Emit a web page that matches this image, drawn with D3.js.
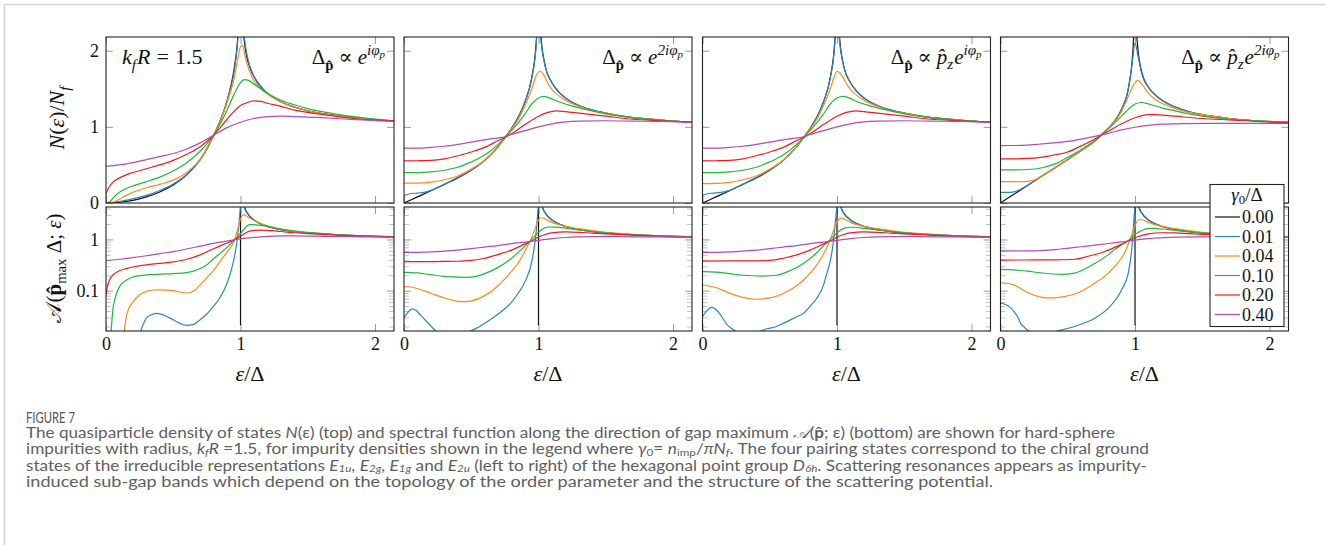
<!DOCTYPE html>
<html><head><meta charset="utf-8">
<script src="https://cdn.jsdelivr.net/npm/d3@7"></script>
<style>body{margin:0;background:#fff}svg{display:block}</style>
</head><body><svg id="c" width="1326" height="545"></svg>
<script>
// ---------------- DATA ----------------
const gammaLabels = ["0.00","0.01","0.04","0.10","0.20","0.40"];
const seriesColors = ["#111111","#2a86c4","#ff8a1c","#1db83c","#f5191f","#b04cb4"];
const xTicks = [0,1,2];
const dosTicks = [0,1,2];
const specMajorTicks = [0.1,1];
const specMinorTicks = [0.02,0.03,0.04,0.05,0.06,0.07,0.08,0.09,0.2,0.3,0.4,0.5,0.6,0.7,0.8,0.9,2,3,4];
const X_DOMAIN = [0,2.141];
const DOS_DOMAIN = [0,2.18];
const SPEC_DOMAIN = [0.0163,4.3];

// --- E1u (Delta ~ e^{i phi}) DOS ---
const dosE1u_000=[[0,0],[0.1,0.01],[0.2,0.035],[0.3,0.08],[0.4,0.145],[0.5,0.235],[0.6,0.37],[0.7,0.57],[0.75,0.71],[0.8,0.89],[0.85,1.08],[0.9,1.34],[0.93,1.55],[0.96,1.85],[0.98,2.2],[0.995,2.9],[1.0,3.5],[1.005,2.9],[1.02,2.3],[1.04,1.98],[1.07,1.78],[1.1,1.66],[1.15,1.53],[1.2,1.44],[1.3,1.33],[1.4,1.26],[1.5,1.21],[1.7,1.15],[1.9,1.11],[2.14,1.08]];
const dosE1u_001=[[0,0],[0.1,0.02],[0.2,0.055],[0.3,0.1],[0.4,0.165],[0.5,0.25],[0.6,0.375],[0.7,0.57],[0.8,0.89],[0.9,1.34],[0.95,1.7],[0.98,2.15],[0.99,2.45],[1.0,2.6],[1.01,2.5],[1.03,2.15],[1.05,1.93],[1.1,1.66],[1.2,1.44],[1.3,1.33],[1.5,1.21],[1.7,1.15],[1.9,1.11],[2.14,1.08]];
const dosE1u_004=[[0,0],[0.05,0.01],[0.1,0.05],[0.15,0.1],[0.2,0.14],[0.25,0.17],[0.3,0.2],[0.4,0.245],[0.5,0.3],[0.6,0.4],[0.7,0.575],[0.8,0.89],[0.85,1.08],[0.9,1.32],[0.95,1.62],[0.98,1.9],[1.0,2.05],[1.015,2.07],[1.03,1.96],[1.05,1.82],[1.1,1.6],[1.15,1.5],[1.2,1.43],[1.3,1.33],[1.5,1.21],[1.7,1.15],[1.9,1.11],[2.14,1.08]];
const dosE1u_010=[[0,0],[0.03,0.02],[0.06,0.08],[0.1,0.14],[0.15,0.19],[0.2,0.225],[0.3,0.28],[0.4,0.34],[0.5,0.42],[0.6,0.53],[0.7,0.68],[0.8,0.89],[0.85,1.04],[0.9,1.22],[0.95,1.42],[1.0,1.58],[1.03,1.62],[1.06,1.61],[1.1,1.56],[1.15,1.5],[1.2,1.44],[1.3,1.35],[1.4,1.29],[1.5,1.24],[1.7,1.17],[1.9,1.12],[2.14,1.08]];
const dosE1u_020=[[0,0.12],[0.02,0.2],[0.05,0.27],[0.1,0.33],[0.15,0.37],[0.2,0.4],[0.3,0.45],[0.4,0.5],[0.5,0.56],[0.6,0.64],[0.7,0.74],[0.8,0.89],[0.9,1.1],[0.95,1.2],[1.0,1.28],[1.05,1.32],[1.1,1.34],[1.15,1.335],[1.2,1.31],[1.3,1.27],[1.4,1.22],[1.5,1.19],[1.7,1.14],[1.9,1.1],[2.14,1.08]];
const dosE1u_040=[[0,0.48],[0.1,0.5],[0.2,0.53],[0.3,0.57],[0.4,0.61],[0.5,0.65],[0.6,0.71],[0.7,0.79],[0.8,0.89],[0.9,0.99],[1.0,1.06],[1.1,1.11],[1.2,1.135],[1.3,1.14],[1.4,1.135],[1.6,1.12],[1.8,1.1],[2.0,1.08],[2.14,1.07]];

// --- E2g (Delta ~ e^{2i phi}) DOS ---
const dosE2g_000=[[0,0],[0.1,0.08],[0.2,0.16],[0.3,0.245],[0.4,0.33],[0.5,0.43],[0.6,0.56],[0.7,0.74],[0.75,0.86],[0.8,0.98],[0.85,1.13],[0.9,1.33],[0.95,1.65],[0.98,2.05],[0.99,2.35],[1.0,3.2],[1.01,2.4],[1.02,2.15],[1.05,1.8],[1.1,1.58],[1.15,1.46],[1.2,1.38],[1.3,1.28],[1.4,1.22],[1.5,1.18],[1.7,1.12],[1.9,1.09],[2.14,1.06]];
const dosE2g_001=[[0,0.1],[0.03,0.115],[0.06,0.125],[0.1,0.13],[0.15,0.14],[0.2,0.165],[0.3,0.245],[0.4,0.335],[0.5,0.435],[0.6,0.56],[0.7,0.74],[0.8,0.98],[0.9,1.33],[0.95,1.64],[0.98,2.0],[1.0,2.5],[1.02,2.1],[1.05,1.79],[1.1,1.58],[1.15,1.46],[1.2,1.38],[1.3,1.28],[1.4,1.22],[1.5,1.18],[1.7,1.12],[1.9,1.09],[2.14,1.06]];
const dosE2g_004=[[0,0.26],[0.1,0.262],[0.2,0.275],[0.3,0.305],[0.4,0.355],[0.5,0.445],[0.6,0.565],[0.7,0.74],[0.75,0.86],[0.8,0.97],[0.85,1.1],[0.9,1.28],[0.95,1.5],[0.98,1.66],[1.01,1.73],[1.04,1.68],[1.07,1.57],[1.1,1.49],[1.15,1.41],[1.2,1.35],[1.3,1.27],[1.4,1.21],[1.5,1.18],[1.7,1.12],[1.9,1.09],[2.14,1.06]];
const dosE2g_010=[[0,0.4],[0.1,0.4],[0.2,0.41],[0.3,0.43],[0.4,0.47],[0.5,0.54],[0.6,0.63],[0.7,0.77],[0.75,0.86],[0.8,0.95],[0.9,1.17],[0.95,1.3],[1.0,1.38],[1.04,1.4],[1.08,1.38],[1.15,1.33],[1.2,1.3],[1.3,1.25],[1.4,1.21],[1.5,1.17],[1.7,1.12],[1.9,1.09],[2.14,1.06]];
const dosE2g_020=[[0,0.553],[0.1,0.555],[0.2,0.56],[0.3,0.58],[0.4,0.62],[0.5,0.67],[0.6,0.73],[0.7,0.82],[0.75,0.86],[0.8,0.91],[0.9,1.03],[1.0,1.14],[1.07,1.19],[1.13,1.21],[1.2,1.2],[1.3,1.18],[1.4,1.16],[1.5,1.14],[1.7,1.1],[1.9,1.08],[2.14,1.06]];
const dosE2g_040=[[0,0.72],[0.1,0.72],[0.2,0.73],[0.3,0.745],[0.4,0.77],[0.5,0.8],[0.6,0.83],[0.7,0.855],[0.75,0.87],[0.8,0.9],[0.9,0.95],[1.0,1.0],[1.1,1.04],[1.2,1.065],[1.3,1.075],[1.5,1.08],[1.7,1.075],[1.9,1.07],[2.14,1.06]];

// --- E1g (Delta ~ pz e^{i phi}) DOS ---
const dosE1g_000=[[0,0],[0.1,0.08],[0.2,0.16],[0.3,0.245],[0.4,0.33],[0.5,0.43],[0.6,0.56],[0.7,0.74],[0.75,0.86],[0.8,0.98],[0.85,1.13],[0.9,1.33],[0.95,1.65],[0.98,2.05],[0.99,2.35],[1.0,3.2],[1.01,2.4],[1.02,2.15],[1.05,1.8],[1.1,1.58],[1.15,1.46],[1.2,1.38],[1.3,1.28],[1.4,1.22],[1.5,1.18],[1.7,1.12],[1.9,1.09],[2.14,1.06]];
const dosE1g_001=[[0,0.1],[0.03,0.118],[0.06,0.128],[0.1,0.132],[0.15,0.142],[0.2,0.166],[0.3,0.245],[0.4,0.335],[0.5,0.435],[0.6,0.56],[0.7,0.74],[0.8,0.98],[0.9,1.33],[0.95,1.64],[0.98,2.0],[1.0,2.5],[1.02,2.1],[1.05,1.79],[1.1,1.58],[1.15,1.46],[1.2,1.38],[1.3,1.28],[1.4,1.22],[1.5,1.18],[1.7,1.12],[1.9,1.09],[2.14,1.06]];
const dosE1g_004=[[0,0.255],[0.1,0.258],[0.2,0.272],[0.3,0.305],[0.4,0.355],[0.5,0.445],[0.6,0.565],[0.7,0.74],[0.75,0.86],[0.8,0.97],[0.85,1.1],[0.9,1.28],[0.95,1.5],[0.98,1.66],[1.0,1.73],[1.03,1.69],[1.07,1.57],[1.1,1.49],[1.15,1.41],[1.2,1.35],[1.3,1.27],[1.4,1.21],[1.5,1.18],[1.7,1.12],[1.9,1.09],[2.14,1.06]];
const dosE1g_010=[[0,0.4],[0.1,0.4],[0.2,0.41],[0.3,0.43],[0.4,0.47],[0.5,0.54],[0.6,0.63],[0.7,0.77],[0.75,0.86],[0.8,0.95],[0.9,1.17],[0.95,1.3],[1.0,1.38],[1.045,1.4],[1.09,1.38],[1.15,1.33],[1.2,1.3],[1.3,1.25],[1.4,1.21],[1.5,1.17],[1.7,1.12],[1.9,1.09],[2.14,1.06]];
const dosE1g_020=[[0,0.553],[0.1,0.555],[0.2,0.56],[0.3,0.58],[0.4,0.62],[0.5,0.67],[0.6,0.73],[0.7,0.82],[0.75,0.86],[0.8,0.91],[0.9,1.03],[1.0,1.14],[1.07,1.19],[1.14,1.21],[1.2,1.2],[1.3,1.18],[1.4,1.16],[1.5,1.14],[1.7,1.1],[1.9,1.08],[2.14,1.06]];
const dosE1g_040=[[0,0.72],[0.1,0.72],[0.2,0.73],[0.3,0.745],[0.4,0.77],[0.5,0.8],[0.6,0.83],[0.7,0.855],[0.75,0.87],[0.8,0.9],[0.9,0.95],[1.0,1.0],[1.1,1.04],[1.2,1.065],[1.3,1.075],[1.5,1.08],[1.7,1.075],[1.9,1.07],[2.14,1.06]];

// --- E2u (Delta ~ pz e^{2i phi}) DOS ---
const dosE2u_000=[[0,0],[0.1,0.115],[0.2,0.23],[0.3,0.345],[0.4,0.455],[0.5,0.57],[0.6,0.69],[0.7,0.81],[0.75,0.895],[0.8,0.98],[0.85,1.08],[0.9,1.23],[0.95,1.5],[0.98,1.9],[0.99,2.2],[1.0,3.0],[1.01,2.3],[1.02,2.05],[1.05,1.72],[1.1,1.52],[1.15,1.42],[1.2,1.35],[1.3,1.26],[1.4,1.2],[1.5,1.16],[1.7,1.11],[1.9,1.08],[2.14,1.06]];
const dosE2u_001=[[0,0.14],[0.05,0.14],[0.1,0.147],[0.15,0.18],[0.2,0.23],[0.3,0.345],[0.4,0.455],[0.5,0.57],[0.6,0.69],[0.7,0.81],[0.8,0.98],[0.9,1.23],[0.95,1.5],[0.98,1.85],[1.0,2.1],[1.02,1.95],[1.05,1.7],[1.1,1.52],[1.15,1.42],[1.2,1.35],[1.3,1.26],[1.4,1.2],[1.5,1.16],[1.7,1.11],[1.9,1.08],[2.14,1.06]];
const dosE2u_004=[[0,0.28],[0.1,0.28],[0.2,0.285],[0.25,0.3],[0.3,0.35],[0.4,0.455],[0.5,0.57],[0.6,0.69],[0.7,0.81],[0.75,0.895],[0.8,0.98],[0.9,1.2],[0.95,1.4],[1.0,1.58],[1.02,1.61],[1.05,1.56],[1.1,1.44],[1.15,1.36],[1.2,1.31],[1.3,1.24],[1.4,1.19],[1.5,1.16],[1.7,1.11],[1.9,1.08],[2.14,1.06]];
const dosE2u_010=[[0,0.434],[0.1,0.435],[0.2,0.44],[0.3,0.46],[0.4,0.51],[0.5,0.6],[0.6,0.7],[0.7,0.82],[0.75,0.895],[0.8,0.97],[0.9,1.14],[0.95,1.23],[1.0,1.3],[1.05,1.32],[1.1,1.3],[1.2,1.25],[1.3,1.21],[1.4,1.17],[1.5,1.14],[1.7,1.1],[1.9,1.08],[2.14,1.06]];
const dosE2u_020=[[0,0.58],[0.1,0.58],[0.2,0.585],[0.3,0.6],[0.4,0.63],[0.5,0.67],[0.6,0.75],[0.7,0.84],[0.75,0.895],[0.8,0.94],[0.9,1.04],[1.0,1.12],[1.1,1.16],[1.15,1.16],[1.2,1.155],[1.3,1.14],[1.5,1.11],[1.7,1.09],[1.9,1.07],[2.14,1.055]];
const dosE2u_040=[[0,0.754],[0.1,0.755],[0.2,0.76],[0.3,0.775],[0.4,0.79],[0.5,0.81],[0.6,0.84],[0.7,0.875],[0.75,0.895],[0.8,0.915],[0.9,0.96],[1.0,0.995],[1.1,1.02],[1.2,1.035],[1.3,1.04],[1.5,1.045],[1.7,1.045],[1.9,1.045],[2.14,1.045]];

// --- spectral function, clean limit (same for all) ---
const specClean=[[1.0,0.021],[1.0,30],[1.002,16],[1.005,10],[1.01,7.1],[1.015,5.8],[1.02,5.0],[1.03,4.2],[1.04,3.6],[1.05,3.3],[1.07,2.8],[1.1,2.4],[1.13,2.15],[1.16,1.97],[1.2,1.8],[1.25,1.66],[1.3,1.56],[1.4,1.43],[1.5,1.34],[1.6,1.28],[1.7,1.24],[1.8,1.2],[1.9,1.17],[2.0,1.15],[2.14,1.13]];

// --- E1u spectral ---
const specE1u_001=[[0.24,0.012],[0.27,0.02],[0.3,0.029],[0.34,0.034],[0.38,0.036],[0.42,0.034],[0.5,0.027],[0.55,0.023],[0.6,0.021],[0.65,0.022],[0.7,0.027],[0.75,0.035],[0.8,0.05],[0.85,0.075],[0.9,0.14],[0.92,0.2],[0.95,0.4],[0.97,0.78],[0.99,2.2],[1.0,4.5],[1.01,6],[1.02,5],[1.03,4.1],[1.05,3.25],[1.1,2.4],[1.2,1.8],[1.3,1.56],[1.5,1.34],[1.7,1.24],[1.9,1.17],[2.14,1.12]];
const specE1u_004=[[0.13,0.012],[0.15,0.03],[0.17,0.045],[0.2,0.06],[0.25,0.083],[0.3,0.097],[0.35,0.103],[0.4,0.104],[0.5,0.1],[0.55,0.094],[0.6,0.09],[0.65,0.097],[0.7,0.13],[0.75,0.18],[0.8,0.25],[0.85,0.38],[0.9,0.57],[0.95,0.9],[0.98,1.6],[1.0,2.5],[1.02,3.05],[1.04,2.9],[1.07,2.6],[1.1,2.35],[1.15,2.05],[1.2,1.85],[1.3,1.6],[1.4,1.45],[1.5,1.36],[1.7,1.25],[1.9,1.18],[2.14,1.12]];
const specE1u_010=[[0.035,0.012],[0.05,0.04],[0.07,0.075],[0.1,0.12],[0.15,0.16],[0.2,0.185],[0.25,0.196],[0.3,0.203],[0.4,0.21],[0.5,0.215],[0.6,0.225],[0.65,0.24],[0.7,0.27],[0.75,0.32],[0.8,0.42],[0.85,0.54],[0.9,0.7],[0.95,0.95],[1.0,1.3],[1.04,1.75],[1.07,1.95],[1.1,1.95],[1.15,1.88],[1.2,1.8],[1.3,1.6],[1.4,1.46],[1.5,1.37],[1.7,1.25],[1.9,1.18],[2.14,1.12]];
const specE1u_020=[[0,0.083],[0.01,0.12],[0.03,0.17],[0.05,0.2],[0.1,0.245],[0.15,0.27],[0.2,0.29],[0.3,0.32],[0.4,0.34],[0.5,0.365],[0.6,0.41],[0.7,0.5],[0.8,0.66],[0.9,0.85],[0.95,0.97],[1.0,1.15],[1.05,1.4],[1.1,1.5],[1.15,1.52],[1.2,1.5],[1.3,1.43],[1.4,1.35],[1.5,1.3],[1.7,1.22],[1.9,1.16],[2.14,1.12]];
const specE1u_040=[[0,0.384],[0.1,0.41],[0.2,0.44],[0.3,0.48],[0.4,0.53],[0.5,0.58],[0.6,0.65],[0.7,0.74],[0.8,0.84],[0.9,0.93],[0.95,0.98],[1.0,1.03],[1.1,1.1],[1.2,1.15],[1.3,1.17],[1.4,1.17],[1.6,1.15],[1.8,1.13],[2.0,1.12],[2.14,1.11]];

// --- E2g spectral ---
const specE2g_001=[[0,0.029],[0.03,0.038],[0.06,0.044],[0.09,0.041],[0.12,0.034],[0.15,0.028],[0.22,0.018],[0.25,0.015],[0.3,0.013],[0.4,0.013],[0.5,0.0165],[0.55,0.019],[0.6,0.023],[0.7,0.035],[0.8,0.06],[0.85,0.09],[0.9,0.15],[0.95,0.37],[0.98,1.2],[1.0,4.5],[1.01,6],[1.03,4.2],[1.05,3.25],[1.1,2.4],[1.2,1.8],[1.3,1.56],[1.5,1.34],[1.7,1.24],[1.9,1.17],[2.14,1.12]];
const specE2g_004=[[0,0.12],[0.05,0.118],[0.1,0.11],[0.2,0.089],[0.3,0.072],[0.4,0.062],[0.45,0.061],[0.5,0.063],[0.6,0.08],[0.7,0.125],[0.75,0.17],[0.8,0.24],[0.85,0.35],[0.88,0.48],[0.9,0.6],[0.95,1.1],[0.98,1.8],[1.0,2.4],[1.02,2.65],[1.05,2.5],[1.1,2.15],[1.2,1.8],[1.3,1.62],[1.5,1.38],[1.7,1.26],[1.9,1.18],[2.14,1.12]];
const specE2g_010=[[0,0.228],[0.1,0.222],[0.2,0.205],[0.3,0.19],[0.4,0.183],[0.47,0.182],[0.55,0.195],[0.6,0.215],[0.7,0.285],[0.8,0.43],[0.85,0.56],[0.9,0.75],[0.95,1.0],[1.0,1.38],[1.04,1.65],[1.08,1.75],[1.12,1.74],[1.2,1.66],[1.3,1.53],[1.4,1.43],[1.5,1.35],[1.7,1.24],[1.9,1.17],[2.14,1.12]];
const specE2g_020=[[0,0.367],[0.1,0.368],[0.2,0.37],[0.3,0.372],[0.4,0.375],[0.45,0.38],[0.5,0.39],[0.6,0.43],[0.7,0.51],[0.8,0.62],[0.9,0.82],[0.95,0.93],[1.0,1.12],[1.05,1.25],[1.1,1.34],[1.2,1.4],[1.3,1.38],[1.4,1.33],[1.5,1.29],[1.7,1.21],[1.9,1.15],[2.14,1.11]];
const specE2g_040=[[0,0.558],[0.1,0.56],[0.2,0.57],[0.3,0.59],[0.4,0.62],[0.5,0.66],[0.6,0.71],[0.7,0.76],[0.8,0.83],[0.9,0.89],[1.0,0.96],[1.1,1.04],[1.2,1.09],[1.3,1.12],[1.4,1.13],[1.6,1.13],[1.8,1.12],[2.0,1.115],[2.14,1.11]];

// --- E1g spectral ---
const specE1g_001=[[0,0.031],[0.03,0.04],[0.07,0.047],[0.1,0.043],[0.14,0.032],[0.18,0.022],[0.22,0.018],[0.26,0.0155],[0.3,0.014],[0.35,0.014],[0.42,0.0158],[0.48,0.018],[0.55,0.02],[0.6,0.023],[0.7,0.031],[0.75,0.036],[0.8,0.05],[0.85,0.071],[0.9,0.13],[0.92,0.2],[0.95,0.38],[0.97,0.78],[0.99,2.5],[1.0,4.5],[1.01,6],[1.03,4.2],[1.05,3.25],[1.1,2.4],[1.2,1.8],[1.3,1.56],[1.5,1.34],[1.7,1.24],[1.9,1.17],[2.14,1.12]];
const specE1g_004=[[0,0.129],[0.1,0.115],[0.2,0.09],[0.3,0.074],[0.4,0.068],[0.5,0.072],[0.6,0.088],[0.7,0.125],[0.75,0.16],[0.8,0.22],[0.85,0.32],[0.9,0.52],[0.95,1.0],[1.0,2.2],[1.03,2.6],[1.06,2.45],[1.1,2.15],[1.2,1.8],[1.3,1.62],[1.5,1.38],[1.7,1.26],[1.9,1.18],[2.14,1.12]];
const specE1g_010=[[0,0.235],[0.1,0.23],[0.2,0.215],[0.3,0.2],[0.45,0.193],[0.55,0.2],[0.65,0.245],[0.75,0.34],[0.85,0.55],[0.9,0.75],[0.95,1.0],[1.0,1.35],[1.05,1.65],[1.1,1.73],[1.15,1.71],[1.2,1.65],[1.3,1.53],[1.4,1.43],[1.5,1.35],[1.7,1.24],[1.9,1.17],[2.14,1.12]];
const specE1g_020=[[0,0.378],[0.2,0.38],[0.4,0.382],[0.5,0.39],[0.6,0.43],[0.7,0.5],[0.8,0.62],[0.9,0.82],[0.95,0.93],[1.0,1.12],[1.05,1.25],[1.1,1.34],[1.2,1.4],[1.3,1.38],[1.4,1.33],[1.5,1.29],[1.7,1.21],[1.9,1.15],[2.14,1.11]];
const specE1g_040=[[0,0.558],[0.1,0.56],[0.2,0.57],[0.3,0.59],[0.4,0.62],[0.5,0.66],[0.6,0.71],[0.7,0.76],[0.8,0.83],[0.9,0.89],[1.0,0.96],[1.1,1.04],[1.2,1.09],[1.3,1.12],[1.4,1.13],[1.6,1.13],[1.8,1.12],[2.0,1.115],[2.14,1.11]];

// --- E2u spectral ---
const specE2u_001=[[0,0.0567],[0.05,0.052],[0.08,0.045],[0.1,0.039],[0.13,0.03],[0.15,0.023],[0.18,0.019],[0.2,0.017],[0.25,0.0152],[0.35,0.0152],[0.45,0.017],[0.55,0.02],[0.7,0.029],[0.8,0.045],[0.9,0.103],[0.95,0.22],[0.98,0.84],[1.0,4.5],[1.01,6],[1.03,4.2],[1.05,3.25],[1.1,2.4],[1.2,1.8],[1.3,1.56],[1.5,1.34],[1.7,1.24],[1.9,1.17],[2.14,1.13]];
const specE2u_004=[[0,0.143],[0.1,0.13],[0.15,0.11],[0.2,0.092],[0.3,0.075],[0.35,0.072],[0.45,0.075],[0.6,0.096],[0.7,0.14],[0.8,0.218],[0.85,0.3],[0.92,0.53],[0.97,1.13],[1.0,1.9],[1.03,2.45],[1.06,2.4],[1.1,2.15],[1.2,1.8],[1.3,1.62],[1.5,1.38],[1.7,1.26],[1.9,1.18],[2.14,1.13]];
const specE2u_010=[[0,0.26],[0.1,0.255],[0.2,0.24],[0.3,0.222],[0.45,0.208],[0.55,0.22],[0.7,0.34],[0.8,0.5],[0.85,0.64],[0.9,0.78],[0.95,0.95],[1.0,1.25],[1.05,1.5],[1.1,1.64],[1.15,1.64],[1.2,1.6],[1.3,1.5],[1.4,1.41],[1.5,1.34],[1.7,1.24],[1.9,1.17],[2.14,1.13]];
const specE2u_020=[[0,0.396],[0.2,0.397],[0.4,0.4],[0.55,0.41],[0.65,0.47],[0.75,0.55],[0.85,0.7],[0.92,0.86],[1.0,1.08],[1.1,1.28],[1.2,1.35],[1.3,1.34],[1.4,1.3],[1.5,1.26],[1.7,1.2],[1.9,1.15],[2.14,1.13]];
const specE2u_040=[[0,0.6],[0.2,0.6],[0.3,0.605],[0.45,0.65],[0.6,0.72],[0.75,0.8],[0.9,0.9],[0.95,0.93],[1.0,0.97],[1.1,1.04],[1.2,1.08],[1.3,1.11],[1.5,1.125],[1.7,1.13],[1.9,1.13],[2.14,1.13]];

const dosPanels = [
  [dosE1u_000,dosE1u_001,dosE1u_004,dosE1u_010,dosE1u_020,dosE1u_040],
  [dosE2g_000,dosE2g_001,dosE2g_004,dosE2g_010,dosE2g_020,dosE2g_040],
  [dosE1g_000,dosE1g_001,dosE1g_004,dosE1g_010,dosE1g_020,dosE1g_040],
  [dosE2u_000,dosE2u_001,dosE2u_004,dosE2u_010,dosE2u_020,dosE2u_040]];
const specPanels = [
  [specClean,specE1u_001,specE1u_004,specE1u_010,specE1u_020,specE1u_040],
  [specClean,specE2g_001,specE2g_004,specE2g_010,specE2g_020,specE2g_040],
  [specClean,specE1g_001,specE1g_004,specE1g_010,specE1g_020,specE1g_040],
  [specClean,specE2u_001,specE2u_004,specE2u_010,specE2u_020,specE2u_040]];

// ---------------- LAYOUT ----------------
const panelLeft = [106, 404, 702.5, 1000.5];
const PW = 288, TY0 = 37, TY1 = 203, BY0 = 207, BY1 = 331;
const MF = "'Liberation Serif','DejaVu Serif',serif";
const FS = 18;
const svg = d3.select('#c');

svg.append('rect').attr('x',4.5).attr('y',4.5).attr('width',1400).attr('height',700)
  .attr('fill','none').attr('stroke','#d4d4d4').attr('stroke-width',1.5);

function rich(t, parts, fs){
  let cur = 0;
  parts.forEach(p=>{
    const ts = t.append('tspan').text(p.t);
    ts.attr('font-size', fs*(p.s||1));
    if(p.i) ts.attr('font-style','italic');
    if(p.b) ts.attr('font-weight','bold');
    const target = (p.y||0)*fs;
    if(target!==cur) ts.attr('dy', target-cur);
    cur = target;
    if(p.dx) ts.attr('dx', p.dx);
  });
  return t;
}

const gapLabels = [
  [{t:'Δ'},{t:'p̂',b:1,s:0.7,y:0.3},{t:'∝',y:0,dx:5},{t:'e',i:1,dx:5},{t:'iφ',i:1,s:0.72,y:-0.42},{t:'p',i:1,s:0.52,y:-0.3}],
  [{t:'Δ'},{t:'p̂',b:1,s:0.7,y:0.3},{t:'∝',y:0,dx:5},{t:'e',i:1,dx:5},{t:'2iφ',i:1,s:0.72,y:-0.42},{t:'p',i:1,s:0.52,y:-0.3}],
  [{t:'Δ'},{t:'p̂',b:1,s:0.7,y:0.3},{t:'∝',y:0,dx:5},{t:'p̂',i:1,dx:5},{t:'z',i:1,s:0.72,y:0.25},{t:'e',i:1,y:0,dx:1},{t:'iφ',i:1,s:0.72,y:-0.42},{t:'p',i:1,s:0.52,y:-0.3}],
  [{t:'Δ'},{t:'p̂',b:1,s:0.7,y:0.3},{t:'∝',y:0,dx:5},{t:'p̂',i:1,dx:5},{t:'z',i:1,s:0.72,y:0.25},{t:'e',i:1,y:0,dx:1},{t:'2iφ',i:1,s:0.72,y:-0.42},{t:'p',i:1,s:0.52,y:-0.3}]
];

function styleAxis(g){
  g.select('.domain').remove();
  g.selectAll('.tick line').attr('stroke','#9a9a9a').attr('stroke-width',1);
  g.selectAll('.tick text').attr('font-family',MF).attr('font-size',FS).attr('fill','#111');
}

panelLeft.forEach((L,i)=>{
  const x = d3.scaleLinear().domain(X_DOMAIN).range([L, L+PW]);
  const yT = d3.scaleLinear().domain(DOS_DOMAIN).range([TY1, TY0]);
  const yB = d3.scaleLog().domain(SPEC_DOMAIN).range([BY1, BY0]);

  const defs = svg.append('defs');
  defs.append('clipPath').attr('id','ct'+i).append('rect').attr('x',L).attr('y',TY0).attr('width',PW).attr('height',TY1-TY0);
  defs.append('clipPath').attr('id','cb'+i).append('rect').attr('x',L).attr('y',BY0).attr('width',PW).attr('height',BY1-BY0);

  const tl = svg.append('g').attr('transform',`translate(${L},0)`)
    .call(d3.axisLeft(yT).tickValues(dosTicks).tickSizeInner(-7).tickSizeOuter(0).tickPadding(7).tickFormat(i===0?d3.format('d'):''));
  styleAxis(tl);
  const tr = svg.append('g').attr('transform',`translate(${L+PW},0)`)
    .call(d3.axisRight(yT).tickValues(dosTicks).tickSizeInner(-7).tickSizeOuter(0).tickFormat(''));
  styleAxis(tr);
  [TY1,BY1].forEach((yy,k)=>{
    const gb = svg.append('g').attr('transform',`translate(0,${yy})`)
      .call(d3.axisBottom(x).tickValues(xTicks).tickSizeInner(-7).tickSizeOuter(0).tickPadding(6).tickFormat(k===1?d3.format('d'):''));
    styleAxis(gb);
  });
  [TY0,BY0].forEach(yy=>{
    const gt = svg.append('g').attr('transform',`translate(0,${yy})`)
      .call(d3.axisTop(x).tickValues(xTicks).tickSizeInner(-7).tickSizeOuter(0).tickFormat(''));
    styleAxis(gt);
  });
  const bl = svg.append('g').attr('transform',`translate(${L},0)`)
    .call(d3.axisLeft(yB).tickValues(specMajorTicks).tickSizeInner(-7).tickSizeOuter(0).tickPadding(7).tickFormat(i===0?(d=>d===1?'1':'0.1'):''));
  styleAxis(bl);
  const bm = svg.append('g').attr('transform',`translate(${L},0)`)
    .call(d3.axisLeft(yB).tickValues(specMinorTicks).tickSizeInner(-5).tickSizeOuter(0).tickFormat(''));
  styleAxis(bm); bm.selectAll('.tick line').attr('stroke','#c4c4c4');
  const br = svg.append('g').attr('transform',`translate(${L+PW},0)`)
    .call(d3.axisRight(yB).tickValues(specMajorTicks).tickSizeInner(-7).tickSizeOuter(0).tickFormat(''));
  styleAxis(br);
  const brm = svg.append('g').attr('transform',`translate(${L+PW},0)`)
    .call(d3.axisRight(yB).tickValues(specMinorTicks).tickSizeInner(-5).tickSizeOuter(0).tickFormat(''));
  styleAxis(brm); brm.selectAll('.tick line').attr('stroke','#c4c4c4');

  const lineT = d3.line().x(d=>x(d[0])).y(d=>yT(d[1])).curve(d3.curveMonotoneX);
  const gT = svg.append('g').attr('clip-path',`url(#ct${i})`);
  dosPanels[i].forEach((s,k)=>{
    gT.append('path').datum(s).attr('d',lineT).attr('fill','none')
      .attr('stroke',seriesColors[k]).attr('stroke-width',1.2);
  });
  const lineB = d3.line().x(d=>x(d[0])).y(d=>yB(d[1])).curve(d3.curveMonotoneX);
  const lineBlin = d3.line().x(d=>x(d[0])).y(d=>yB(d[1]));
  const gB = svg.append('g').attr('clip-path',`url(#cb${i})`);
  specPanels[i].forEach((s,k)=>{
    gB.append('path').datum(s).attr('d',k===0?lineBlin:lineB).attr('fill','none')
      .attr('stroke',seriesColors[k]).attr('stroke-width',1.2);
  });

  svg.append('rect').attr('x',L).attr('y',TY0).attr('width',PW).attr('height',TY1-TY0)
    .attr('fill','none').attr('stroke','#222').attr('stroke-width',1.1);
  svg.append('rect').attr('x',L).attr('y',BY0).attr('width',PW).attr('height',BY1-BY0)
    .attr('fill','none').attr('stroke','#222').attr('stroke-width',1.1);

  rich(svg.append('text').attr('x',L+PW/2).attr('y',381).attr('text-anchor','middle')
    .attr('font-family',MF).attr('fill','#111'), [{t:'ε',i:1},{t:'/Δ'}], 22);

  rich(svg.append('text').attr('x',L+PW-9).attr('y',64).attr('text-anchor','end')
    .attr('font-family',MF).attr('fill','#111'), gapLabels[i], 21);
});

rich(svg.append('text').attr('transform','translate(64,118) rotate(-90)').attr('text-anchor','middle')
  .attr('font-family',MF).attr('fill','#111'),
  [{t:'N',i:1},{t:'('},{t:'ε',i:1},{t:')/'},{t:'N',i:1},{t:'f',i:1,s:0.7,y:0.25}], 22);
rich(svg.append('text').attr('transform','translate(61,268) rotate(-90)').attr('text-anchor','middle')
  .attr('font-family',MF).attr('fill','#111'),
  [{t:'𝒜'},{t:'('},{t:'p̂',b:1},{t:'max',s:0.7,y:0.25},{t:' Δ; ',y:0},{t:'ε',i:1},{t:')'}], 21);

rich(svg.append('text').attr('x',122).attr('y',64).attr('font-family',MF).attr('fill','#111'),
  [{t:'k',i:1},{t:'f',i:1,s:0.7,y:0.25},{t:'R',i:1,y:0,dx:1},{t:'=',dx:6},{t:'1.5',dx:6}], 22);

const lg = svg.append('g');
lg.append('rect').attr('x',1210).attr('y',184.5).attr('width',74).attr('height',142)
  .attr('fill','#fff').attr('stroke','#222').attr('stroke-width',1.1);
rich(lg.append('text').attr('x',1247).attr('y',201).attr('text-anchor','middle').attr('font-family',MF).attr('fill','#111'),
  [{t:'γ',i:1},{t:'0',s:0.68,y:0.15},{t:'/Δ',y:0}], 19);
gammaLabels.forEach((g,k)=>{
  const yy = 217 + k*19.5;
  lg.append('line').attr('x1',1215).attr('x2',1240).attr('y1',yy).attr('y2',yy)
    .attr('stroke',seriesColors[k]).attr('stroke-width',1.2);
  lg.append('text').attr('x',1242).attr('y',yy).attr('dy','0.35em').attr('font-family',MF)
    .attr('font-size',FS).attr('fill','#111').text(g);
});

const CF = "Lato,'Open Sans',sans-serif";
svg.append('text').attr('x',26).attr('y',423).attr('font-family',CF).attr('font-size',14.5)
  .attr('fill','#555').attr('textLength',49).attr('lengthAdjust','spacingAndGlyphs').text('FIGURE 7');
const capLines = [
  {w:1089, parts:[{t:'The quasiparticle density of states '},{t:'N',i:1},{t:'(ε) (top) and spectral function along the direction of gap maximum '},{t:'𝒜',i:1},{t:'('},{t:'p̂',b:1},{t:'; ε) (bottom) are shown for hard-sphere'}]},
  {w:1123, parts:[{t:'impurities with radius, '},{t:'k',i:1},{t:'f',i:1,s:0.68,y:0.1},{t:'R',i:1,y:0},{t:' =1.5, for impurity densities shown in the legend where '},{t:'γ',i:1},{t:'0',s:0.68,y:0.1},{t:'= ',y:0},{t:'n',i:1},{t:'imp',s:0.68,y:0.1},{t:'/',y:0},{t:'πN',i:1},{t:'f',i:1,s:0.68,y:0.1},{t:'. The four pairing states correspond to the chiral ground',y:0}]},
  {w:1121, parts:[{t:'states of the irreducible representations '},{t:'E',i:1},{t:'1u',i:1,s:0.68,y:0.1},{t:', ',y:0},{t:'E',i:1},{t:'2g',i:1,s:0.68,y:0.1},{t:', ',y:0},{t:'E',i:1},{t:'1g',i:1,s:0.68,y:0.1},{t:' and ',y:0},{t:'E',i:1},{t:'2u',i:1,s:0.68,y:0.1},{t:' (left to right) of the hexagonal point group ',y:0},{t:'D',i:1},{t:'6h',i:1,s:0.68,y:0.1},{t:'. Scattering resonances appears as impurity-',y:0}]},
  {w:967, parts:[{t:'induced sub-gap bands which depend on the topology of the order parameter and the structure of the scattering potential.'}]}
];
capLines.forEach((ln,k)=>{
  const t = svg.append('text').attr('x',26).attr('y',437.5+k*16.6).attr('font-family',CF).attr('fill','#5e5e5e')
    .attr('textLength',ln.w).attr('lengthAdjust','spacingAndGlyphs');
  rich(t, ln.parts, 14.5);
});
</script></body></html>
